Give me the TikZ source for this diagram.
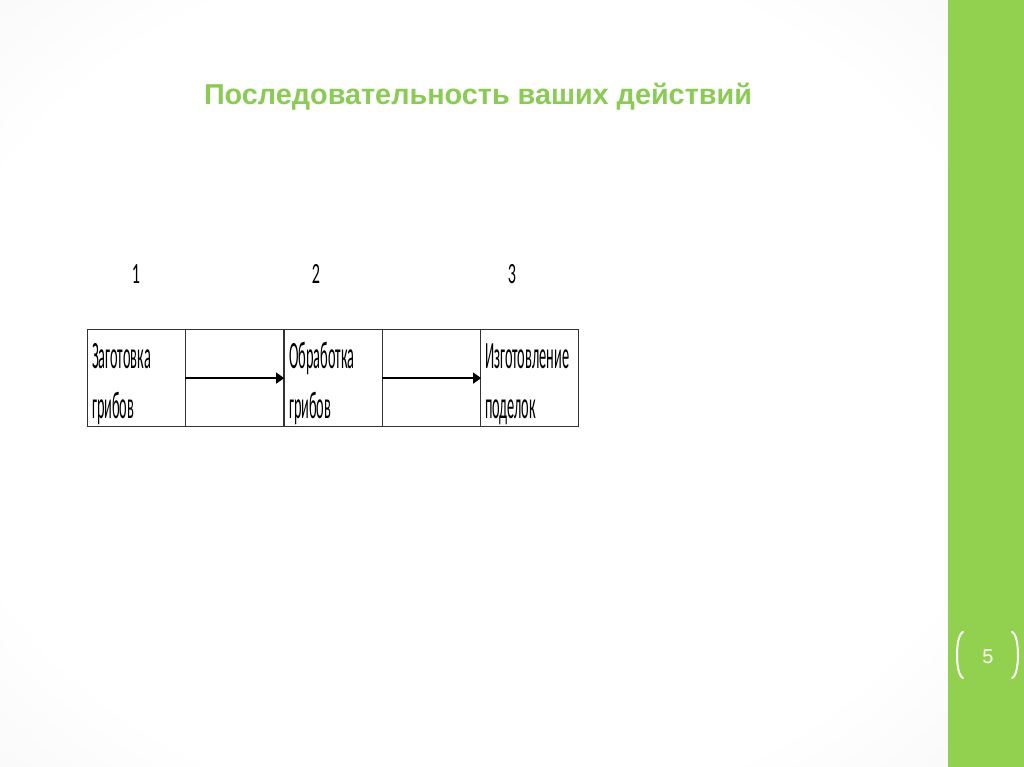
\documentclass[tikz,border=0pt]{standalone}
\usepackage{fontspec}
\setmainfont{Liberation Sans}
\newfontfamily\cellfont{Carlito}
\usetikzlibrary{arrows.meta}
\definecolor{barGreen}{HTML}{92D050}
\definecolor{titleGreen}{HTML}{8ACB55}
\pgfdeclareradialshading{vign}{\pgfpoint{0bp}{0bp}}{color(0bp)=(white); color(28bp)=(white); color(42bp)=(black!4); color(50bp)=(black!11); color(70bp)=(black!15)}
\tikzset{
  cellline/.style={draw=black!80, line width=0.9pt, minimum width=73.5pt, minimum height=72.75pt, inner sep=0pt, anchor=north west},
  celltext/.style={font=\cellfont\fontsize{29}{37.5}\selectfont, align=left, anchor=base west, inner sep=0pt, xscale=0.37},
  numtext/.style={font=\cellfont\fontsize{22}{24}\selectfont, inner sep=0pt, anchor=base, xscale=0.55},
  flow/.style={-{Triangle[length=6pt,width=8pt]}, line width=2pt},
  bracket/.style={white, line width=1.5pt, line cap=round}
}
\begin{document}
\begin{tikzpicture}[x=0.75pt,y=-0.75pt]
\useasboundingbox (0,0) rectangle (1024,767);
\shade[shading=vign] (0,0) rectangle (948,767);
\fill[barGreen] (948,0) rectangle (1024,767);
% title
\node[font=\bfseries\fontsize{21.6}{24}\selectfont, text=titleGreen] (title) at (478,97) {Последовательность ваших действий};
% numbers
\node[numtext] (n1) at (136,283) {1};
\node[numtext] (n2) at (316,283) {2};
\node[numtext] (n3) at (512,283) {3};
% table cells
\node[cellline] (c1) at (87,329) {};
\node[cellline] (c2) at (185,329) {};
\node[cellline] (c3) at (284,329) {};
\node[cellline] (c4) at (382,329) {};
\node[cellline] (c5) at (480,329) {};
\node[celltext] (t1) at (92,418) {Заготовка\\грибов};
\node[celltext] (t2) at (289,418) {Обработка\\грибов};
\node[celltext] (t3) at (485,418) {Изготовление\\поделок};
\draw[flow] (c2.west) -- (c2.east);
\draw[flow] (c4.west) -- (c4.east);
% page number
\coordinate (lb1) at (963,632);
\coordinate (lb2) at (963,678);
\coordinate (rb1) at (1012,632);
\coordinate (rb2) at (1012,678);
\draw[bracket] (lb1) .. controls (955,635) and (955,675) .. (lb2);
\draw[bracket] (rb1) .. controls (1020,635) and (1020,675) .. (rb2);
\node[text=white, font=\fontsize{15}{18}\selectfont] (pg) at (988,657) {5};
\end{tikzpicture}
\end{document}
